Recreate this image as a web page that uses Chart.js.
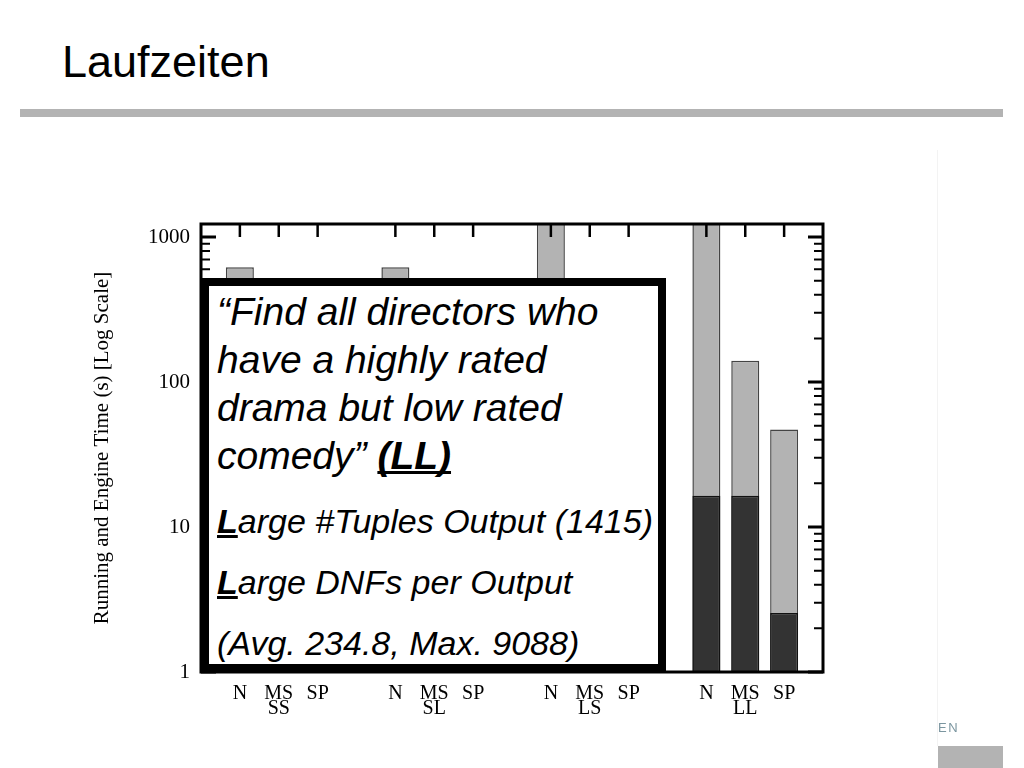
<!DOCTYPE html>
<html>
<head>
<meta charset="utf-8">
<title>Laufzeiten</title>
<script src="https://cdn.jsdelivr.net/npm/chart.js@4.4.1/dist/chart.umd.min.js"></script>
<style>
  html, body { margin: 0; padding: 0; background: #fff; }
  body { width: 1024px; height: 768px; position: relative; overflow: hidden; font-family: 'Liberation Sans', Arial, sans-serif; }
  #title { position: absolute; left: 62px; top: 39px; font-size: 45px; line-height: 45px; color: #000; }
  #rule { position: absolute; left: 20px; top: 109px; width: 983px; height: 8px; background: #b3b3b3; }
  #edge { position: absolute; left: 937px; top: 150px; width: 1px; height: 596px; background: #f3f3f3; }
  #lang { position: absolute; left: 938px; top: 721px; font-size: 13px; line-height: 13px; letter-spacing: 1.5px; color: #7b96a0; }
  #corner { position: absolute; left: 938px; top: 746px; width: 65px; height: 22px; background: #b3b3b3; }
  #chart { position: absolute; left: 0; top: 0; }
  #note { position: absolute; left: 201px; top: 278px; width: 465px; height: 394px; box-sizing: border-box;
          border: 8px solid #000; background: #fff; padding-left: 8px; font-style: italic; color: #000; white-space: nowrap; }
  #note p { margin: 0; }
  #note u { text-decoration-skip-ink: none; }
  #note .q { font-size: 39px; line-height: 48px; margin-top: 1.5px; }
  #note .f { font-size: 34px; line-height: 61px; }
  #note .f.first { margin-top: 11px; }
</style>
</head>
<body>
<div id="title">Laufzeiten</div>
<div id="rule"></div>
<div id="edge"></div>
<canvas id="chart" width="1024" height="768"></canvas>
<div id="note">
  <p class="q">“Find all directors who<br>have a highly rated<br>drama but low rated<br>comedy” <b><u>(LL)</u></b></p>
  <p class="f first"><b><u>L</u></b>arge #Tuples Output (1415)</p>
  <p class="f"><b><u>L</u></b>arge DNFs per Output</p>
  <p class="f">(Avg. 234.8, Max. 9088)</p>
</div>
<div id="lang">EN</div>
<div id="corner"></div>

<script>
// ── Data ────────────────────────────────────────────────────────────────
const GROUPS  = ['SS', 'SL', 'LS', 'LL'];
const METHODS = ['N', 'MS', 'SP'];

// running time (s), light bars -- one row per group, N / MS / SP
const RUNNING_SS = [620, 3.0, 2.2];
const RUNNING_SL = [620, 3.5, 2.5];
const RUNNING_LS = [2000, 4.0, 3.0];
const RUNNING_LL = [2000, 140, 47];

// engine time (s), dark bars
const ENGINE_SS = [2.0, 1.8, 1.6];
const ENGINE_SL = [2.2, 2.0, 1.8];
const ENGINE_LS = [16, 14, 2.5];
const ENGINE_LL = [16.4, 16.4, 2.55];

const Y_TICKS = [1, 10, 100, 1000];

// ── Build slots: empty slot before, between and after the groups ────────
const running = [RUNNING_SS, RUNNING_SL, RUNNING_LS, RUNNING_LL];
const engine  = [ENGINE_SS, ENGINE_SL, ENGINE_LS, ENGINE_LL];

const slotLabels = [''];
const runningSeries = [null];
const engineSeries = [null];
GROUPS.forEach((g, gi) => {
  METHODS.forEach((m, mi) => {
    slotLabels.push(mi === 1 ? [m, g] : [m, '']);
    runningSeries.push(running[gi][mi]);
    engineSeries.push(engine[gi][mi]);
  });
  slotLabels.push('');
  runningSeries.push(null);
  engineSeries.push(null);
});

// frame + inward tick marks, like the original figure
const frameTicks = {
  id: 'frameTicks',
  afterDraw(chart) {
    const { ctx, chartArea: a, scales: { x, y } } = chart;
    ctx.save();
    ctx.strokeStyle = '#000';
    ctx.lineCap = 'butt';

    for (let d = 1; d <= 1000; d *= 10) {
      for (let k = 1; k <= 9; k++) {
        const v = k * d;
        if (v > y.max) break;
        const py = y.getPixelForValue(v);
        const len = k === 1 ? 15 : 9;
        ctx.lineWidth = k === 1 ? 3 : 2;
        ctx.beginPath();
        ctx.moveTo(a.left, py);  ctx.lineTo(a.left + len, py);
        ctx.moveTo(a.right, py); ctx.lineTo(a.right - len, py);
        ctx.stroke();
      }
    }

    ctx.lineWidth = 2.5;
    slotLabels.forEach((lab, i) => {
      if (!lab) return;
      const px = x.getPixelForValue(i);
      ctx.beginPath();
      ctx.moveTo(px, a.top);
      ctx.lineTo(px, a.top + 13);
      ctx.stroke();
    });

    ctx.lineWidth = 3;
    ctx.strokeRect(a.left, a.top, a.right - a.left, a.bottom - a.top);
    ctx.restore();
  }
};

const serif = 'Liberation Serif, Times New Roman, serif';

new Chart(document.getElementById('chart'), {
  type: 'bar',
  data: {
    labels: slotLabels,
    datasets: [
      {
        label: 'Engine Time',
        data: engineSeries,
        backgroundColor: '#333333',
        borderColor: '#111111',
        borderWidth: 1.5,
        order: 0,
      },
      {
        label: 'Running Time',
        data: runningSeries,
        backgroundColor: '#b3b3b3',
        borderColor: '#444444',
        borderWidth: 1.5,
        order: 1,
      },
    ],
  },
  options: {
    responsive: false,
    animation: false,
    devicePixelRatio: 1,
    barPercentage: 0.72,
    categoryPercentage: 1,
    layout: { padding: { left: 90, right: 201, top: 224, bottom: 36 } },
    plugins: {
      legend: { display: false },
      tooltip: { enabled: false },
    },
    scales: {
      x: {
        type: 'category',
        stacked: true,
        offset: false,
        grid: { display: false, drawTicks: false },
        border: { display: false },
        ticks: {
          autoSkip: false,
          maxRotation: 0,
          padding: 14,
          color: '#000',
          font: { family: serif, size: 20, lineHeight: 0.76 },
        },
        afterFit: s => { s.height = 60; },
      },
      y: {
        type: 'logarithmic',
        min: 1,
        max: 1230,
        stacked: false,
        grid: { display: false, drawTicks: false },
        border: { display: false },
        ticks: {
          autoSkip: false,
          padding: 11,
          color: '#000',
          font: { family: serif, size: 21 },
          callback: v => Y_TICKS.find(t => Math.abs(t - v) < 1e-6) !== undefined ? String(Math.round(v)) : '',
        },
        title: {
          display: true,
          text: 'Running and Engine Time (s) [Log Scale]',
          color: '#000',
          font: { family: serif, size: 21 },
          padding: { top: 0, bottom: 0 },
        },
        afterFit: s => { s.width = 111; },
      },
    },
  },
  plugins: [frameTicks],
});
</script>
</body>
</html>
